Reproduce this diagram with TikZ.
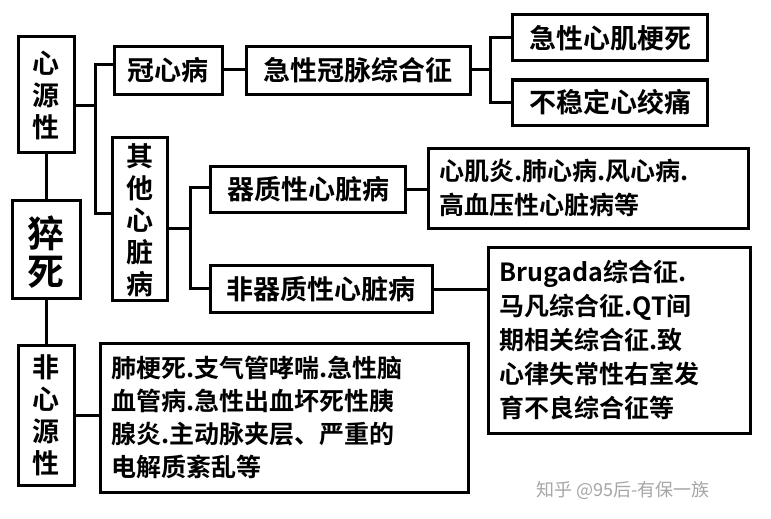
\documentclass[tikz,border=0pt]{standalone}
\usepackage{fontspec}
\newfontfamily\cjk{Noto Sans CJK SC Bold}
\newfontfamily\cjkr{Noto Sans CJK SC}
\begin{document}
\begin{tikzpicture}[x=1pt,y=-1pt,
  bx/.style={draw,line width=3pt,inner sep=0pt},
  ln/.style={line width=3pt},
  t/.style={font=\cjk\fontsize{27}{30}\selectfont,anchor=center},
  ts/.style={align=left,anchor=west}]
\useasboundingbox (0,0) rectangle (771,519);
\fill[white] (0,0) rectangle (771,519);
% boxes
\draw[bx] (18,37) rectangle (74,152); \node[anchor=center,align=center,font=\cjk\fontsize{27}{32}\selectfont] (xy) at (46,95) {心\\源\\性};
\draw[bx] (12,200) rectangle (80,298); \node[anchor=center,align=center,font=\cjk\fontsize{37}{38}\selectfont] (cs) at (46,252) {猝\\死};
\draw[bx] (18,345) rectangle (74,485); \node[anchor=center,align=center,font=\cjk\fontsize{27}{32}\selectfont] (fx) at (46,415) {非\\心\\源\\性};
\draw[bx] (114,47) rectangle (222,94); \node[t] (gx) at (168,70) {冠心病};
\draw[bx] (246,47) rectangle (470,94); \node[t] (jg) at (358,70) {急性冠脉综合征};
\draw[bx] (512,15) rectangle (707,61); \node[t] (jx) at (610,38) {急性心肌梗死};
\draw[bx] (512,80) rectangle (707,125); \node[t] (bw) at (610,102) {不稳定心绞痛};
\draw[bx] (112,137) rectangle (167,300); \node[anchor=center,align=center,font=\cjk\fontsize{27}{32}\selectfont] (qt) at (140,220) {其\\他\\心\\脏\\病};
\draw[bx] (210,166) rectangle (405,212); \node[t] (qz) at (308,189) {器质性心脏病};
\draw[bx] (428,148) rectangle (748,228); \node[ts,font=\cjk\fontsize{25}{34}\selectfont] (xj) at (436,188) {心肌炎.肺心病.风心病.\\高血压性心脏病等};
\draw[bx] (210,265) rectangle (432,312); \node[t] (fq) at (321,289) {非器质性心脏病};
\draw[bx] (488,247) rectangle (750,433); \node[ts,font=\cjk\fontsize{25}{34}\selectfont] (br) at (496,340) {Brugada综合征.\\马凡综合征.QT间\\期相关综合征.致\\心律失常性右室发\\育不良综合征等};
\draw[bx] (100,343) rectangle (468,492); \node[ts,font=\cjk\fontsize{25}{33}\selectfont] (fg) at (108,417) {肺梗死.支气管哮喘.急性脑\\血管病.急性出血坏死性胰\\腺炎.主动脉夹层、严重的\\电解质紊乱等};
% connectors
\coordinate (b1) at (95,105);
\draw[ln] (74,105) -- (b1);
\draw[ln] (114,65) -- (95,65) -- (95,213) -- (112,213);
\draw[ln] (46,152) -- (46,200);
\draw[ln] (46,298) -- (46,345);
\draw[ln] (74,415) -- (100,415);
\draw[ln] (222,70) -- (246,70);
\draw[ln] (470,70) -- (490,70);
\draw[ln] (512,38) -- (490,38) -- (490,102) -- (512,102);
\draw[ln] (167,228) -- (190,228);
\draw[ln] (210,187) -- (190,187) -- (190,288) -- (210,288);
\draw[ln] (405,189) -- (428,189);
\draw[ln] (432,289) -- (488,289);
\node[font=\cjkr\fontsize{18}{20}\selectfont,text=gray!70,anchor=west] (wm) at (533,490) {知乎 @95后-有保一族};
\end{tikzpicture}
\end{document}
